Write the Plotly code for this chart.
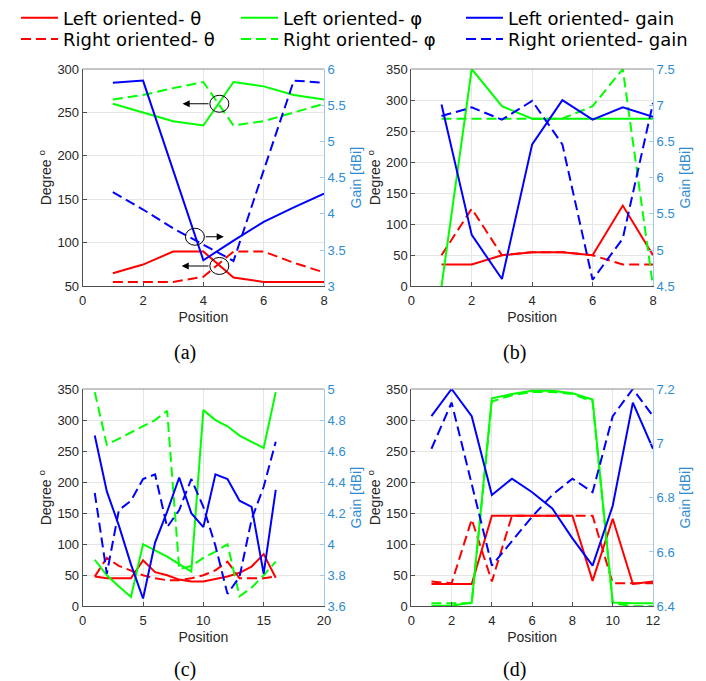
import plotly.graph_objects as go

# ---------------- data ----------------
pos_a = [1, 2, 3, 4, 5, 6, 7, 8]
a_theta_left = [65, 75, 90, 90, 60, 55, 55, 55]
a_theta_right = [55, 55, 55, 61, 90, 90, 77, 66]
a_phi_left = [260, 250, 240, 235, 285, 280, 270, 265]
a_phi_right = [265, 270, 278, 285, 235, 240, 250, 260]
a_gain_left = [5.81, 5.84, 4.60, 3.36, 3.63, 3.89, 4.09, 4.28]
a_gain_right = [4.30, 4.06, 3.80, 3.57, 3.35, 4.60, 5.84, 5.81]

pos_b = [1, 2, 3, 4, 5, 6, 7, 8]
b_theta_left = [35, 35, 50, 55, 55, 50, 130, 50]
b_theta_right = [50, 125, 50, 55, 55, 50, 35, 35]
b_phi_left = [0, 350, 290, 270, 270, 270, 270, 270]
b_phi_right = [270, 270, 270, 270, 270, 290, 350, 0]
b_gain_left = [7.01, 5.21, 4.60, 6.46, 7.07, 6.80, 6.97, 6.84]
b_gain_right = [6.85, 6.97, 6.80, 7.06, 6.46, 4.59, 5.16, 7.03]

pos_c = list(range(1, 17))
c_theta_left = [48, 45, 45, 45, 74, 55, 50, 43, 40, 40, 44, 48, 54, 64, 84, 46]
c_theta_right = [48, 78, 65, 58, 50, 45, 42, 42, 45, 50, 58, 72, 45, 45, 45, 48]
c_phi_left = [75, 50, 32, 15, 100, 90, 80, 68, 56, 316, 300, 290, 275, 265, 255, 345]
c_phi_right = [345, 260, 270, 280, 290, 300, 315, 60, 65, 78, 88, 100, 16, 30, 50, 72]
c_gain_left = [4.70, 4.34, 4.12, 3.87, 3.65, 4.01, 4.21, 4.43, 4.20, 4.11, 4.45, 4.42, 4.28, 4.24, 3.81, 4.35]
c_gain_right = [4.33, 3.81, 4.22, 4.28, 4.42, 4.45, 4.11, 4.22, 4.42, 4.24, 3.99, 3.68, 3.79, 4.16, 4.37, 4.66]

pos_d = list(range(1, 13))
d_theta_left = [36, 36, 36, 146, 146, 146, 146, 146, 41, 141, 36, 40]
d_theta_right = [40, 37, 140, 40, 146, 146, 146, 146, 146, 37, 37, 37]
d_phi_left = [1, 1, 6, 335, 342, 347, 347, 343, 333, 6, 5, 5]
d_phi_right = [5, 5, 5, 330, 340, 345, 345, 342, 330, 5, 0, 0]
d_gain_left = [7.10, 7.20, 7.10, 6.81, 6.87, 6.82, 6.76, 6.65, 6.55, 6.77, 7.15, 6.98]
d_gain_right = [6.98, 7.15, 6.85, 6.55, 6.64, 6.73, 6.81, 6.87, 6.82, 7.10, 7.20, 7.10]

series_names = ["Left oriented- θ", "Right oriented- θ",
                "Left oriented- φ", "Right oriented- φ",
                "Left oriented- gain", "Right oriented- gain"]
captions = ["(a)", "(b)", "(c)", "(d)"]

# ---------------- style ----------------
PAGE_W, PAGE_H = 706, 681
BODY = 8                      # default page margin around the plot div
W, H = PAGE_W - BODY, PAGE_H - BODY
RED, GREEN, BLUE = "#ff0000", "#00ff00", "#0000ff"
DASH = "10px,5px"
AX_BLUE = "#2d8bd3"
AX_BLUE_LINE = "#9fc8ec"
DARK = "#262626"
GRID = "#e6e6e6"
TICKFONT = dict(family="Liberation Sans, Arial, sans-serif", size=13, color=DARK)
TITLEFONT = dict(family="Liberation Sans, Arial, sans-serif", size=14, color=DARK)

def fx(px):   # page pixel -> paper fraction (x)
    return (px - BODY) / W

def fy(py):   # page pixel -> paper fraction (y)
    return 1 - (py - BODY) / H

def px_x(a, b):
    return [fx(a), fx(b)]

def px_y(top, bottom):
    return [fy(bottom), fy(top)]

panels = [
    dict(pos=pos_a, data=[a_theta_left, a_theta_right, a_phi_left, a_phi_right, a_gain_left, a_gain_right],
         xr=[0, 8], xd=2, yr=[50, 300], yd=50, gr=[3, 6], gd=0.5,
         xdom=px_x(82.7, 324), ydom=px_y(69, 286.3), cap=(185, 352.5)),
    dict(pos=pos_b, data=[b_theta_left, b_theta_right, b_phi_left, b_phi_right, b_gain_left, b_gain_right],
         xr=[0, 8], xd=2, yr=[0, 350], yd=50, gr=[4.5, 7.5], gd=0.5,
         xdom=px_x(411.3, 653), ydom=px_y(69, 286.3), cap=(514, 352.5)),
    dict(pos=pos_c, data=[c_theta_left, c_theta_right, c_phi_left, c_phi_right, c_gain_left, c_gain_right],
         xr=[0, 20], xd=5, yr=[0, 350], yd=50, gr=[3.6, 5], gd=0.2,
         xdom=px_x(82.7, 324), ydom=px_y(389, 606.3), cap=(185, 669.5)),
    dict(pos=pos_d, data=[d_theta_left, d_theta_right, d_phi_left, d_phi_right, d_gain_left, d_gain_right],
         xr=[0, 12], xd=2, yr=[0, 350], yd=50, gr=[6.4, 7.2], gd=0.2,
         xdom=px_x(411.3, 653), ydom=px_y(389, 606.3), cap=(514, 669.5)),
]

styles = [(RED, "solid", "left"), (RED, DASH, "left"),
          (GREEN, "solid", "left"), (GREEN, DASH, "left"),
          (BLUE, "solid", "right"), (BLUE, DASH, "right")]
# one legend per entry: (legend id, page x of legend box, page y of row centre)
legend_slots = [("legend", 16, 18.0), ("legend2", 16, 39.3),
                ("legend3", 236, 18.0), ("legend4", 236, 39.3),
                ("legend5", 461, 18.0), ("legend6", 461, 39.3)]

fig = go.Figure()
layout = {}
shapes = []
annotations = []

for i, p in enumerate(panels):
    xn = "x" if i == 0 else f"x{i+1}"
    yl = "y" if i == 0 else f"y{2*i+1}"
    yr = f"y{2*i+2}"
    xkey = "xaxis" if i == 0 else f"xaxis{i+1}"
    ylkey = "yaxis" if i == 0 else f"yaxis{2*i+1}"
    yrkey = f"yaxis{2*i+2}"

    layout[xkey] = dict(domain=p["xdom"], anchor=yl, range=p["xr"], dtick=p["xd"], tick0=0,
                        automargin=False,
                        showgrid=True, gridcolor=GRID, zeroline=False,
                        showline=True, linecolor="#4d4d4d", linewidth=1,
                        ticks="inside", ticklen=4, tickcolor="#4d4d4d", ticklabelstandoff=2,
                        tickfont=TICKFONT, title=dict(text="Position", font=TITLEFONT, standoff=5))
    layout[ylkey] = dict(domain=p["ydom"], anchor=xn, range=p["yr"], dtick=p["yd"], tick0=0,
                         automargin=False,
                         showgrid=True, gridcolor=GRID, zeroline=False,
                         showline=True, linecolor="#4d4d4d", linewidth=1,
                         ticks="inside", ticklen=4, tickcolor="#4d4d4d",
                         tickfont=TICKFONT,
                         title=dict(text="Degree <sup>o</sup>", font=TITLEFONT, standoff=2))
    layout[yrkey] = dict(overlaying=yl, side="right", anchor=xn, range=p["gr"], dtick=p["gd"], tick0=0,
                         automargin=False,
                         showgrid=False, zeroline=False,
                         showline=True, linecolor=AX_BLUE_LINE, linewidth=1,
                         ticks="inside", ticklen=4, tickcolor=AX_BLUE_LINE,
                         tickfont=dict(family="Liberation Sans, Arial, sans-serif", size=13, color=AX_BLUE),
                         title=dict(text="Gain [dBi]", standoff=6,
                                    font=dict(family="Liberation Sans, Arial, sans-serif", size=14, color=AX_BLUE)))

    for k, (vals, (col, dash, side)) in enumerate(zip(p["data"], styles)):
        fig.add_trace(go.Scatter(
            x=p["pos"], y=vals, mode="lines", name=series_names[k],
            line=dict(color=col, width=2, dash=dash),
            xaxis=xn, yaxis=(yl if side == "left" else yr),
            legend=legend_slots[k][0], legendgroup=series_names[k], showlegend=(i == 0),
            hoverinfo="skip"))

    # top border of the box
    shapes.append(dict(type="line", xref="paper", yref="paper",
                       x0=p["xdom"][0], x1=p["xdom"][1], y0=p["ydom"][1], y1=p["ydom"][1],
                       line=dict(color="#8c8c8c", width=1)))
    # caption
    annotations.append(dict(text=captions[i], xref="paper", yref="paper",
                            x=fx(p["cap"][0]), y=fy(p["cap"][1]),
                            yanchor="middle", xanchor="center", showarrow=False,
                            font=dict(family="Liberation Serif, Times New Roman, serif", size=20, color="black")))

# circle + arrow markers in panel (a)
circle_pos = [(4.53, 260), (3.72, 107), (4.53, 73.4)]
arrow_tips = [(3.31, 260), (4.68, 107), (3.28, 73.4)]
arrow_tails = [(4.22, 260), (4.03, 107), (4.22, 73.4)]
for (cx, cy) in circle_pos:
    shapes.append(dict(type="circle", xref="x", yref="y", xsizemode="pixel", ysizemode="pixel",
                       xanchor=cx, yanchor=cy, x0=-9.5, x1=9.5, y0=-8.5, y1=8.5,
                       line=dict(color="black", width=1)))
for (tx, ty), (sx, sy) in zip(arrow_tips, arrow_tails):
    annotations.append(dict(x=tx, y=ty, ax=sx, ay=sy, xref="x", yref="y", axref="x", ayref="y",
                            text="", showarrow=True, arrowhead=2, arrowsize=1.3, arrowwidth=1.1,
                            arrowcolor="black"))

LEGFONT = dict(family="DejaVu Sans, sans-serif", size=18, color="black")
legends = {}
for lid, lx, ly in legend_slots:
    legends[lid] = dict(x=fx(lx), y=fy(ly), xanchor="left", yanchor="middle",
                        bgcolor="rgba(0,0,0,0)", borderwidth=0, font=LEGFONT,
                        itemwidth=37, tracegroupgap=0, orientation="v")

fig.update_layout(
    template="none",
    width=W, height=H, margin=dict(l=0, r=0, t=0, b=0, autoexpand=False),
    paper_bgcolor="white", plot_bgcolor="white",
    font=dict(family="Liberation Sans, Arial, sans-serif"),
    shapes=shapes, annotations=annotations,
    **legends,
    **layout,
)

fig.write_html("out.html")
